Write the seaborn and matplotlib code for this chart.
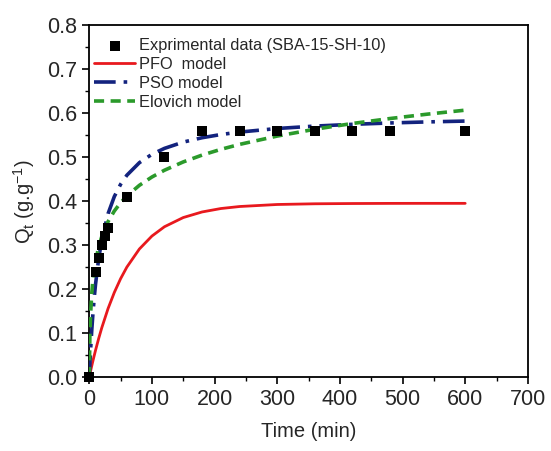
import matplotlib
matplotlib.use("Agg")
import matplotlib.pyplot as plt
import seaborn as sns
import pandas as pd
from matplotlib.ticker import MultipleLocator

exp_t = [0, 10, 15, 20, 25, 30, 60, 120, 180, 240, 300, 360, 420, 480, 600]
exp_q = [0.0, 0.24, 0.27, 0.30, 0.32, 0.34, 0.41, 0.50, 0.56, 0.56, 0.56, 0.56, 0.56, 0.56, 0.56]

# Model curves (values at these times)
model_t = [0, 1, 2, 4, 6, 8, 10, 15, 20, 30, 40, 50, 60, 80, 100, 120, 150, 180,
           210, 240, 300, 360, 420, 480, 540, 600]
pfo_q = [0.0, 0.0065, 0.0130, 0.0255, 0.0376, 0.0493, 0.0608, 0.0875, 0.1121, 0.1557,
         0.1924, 0.2236, 0.2500, 0.2912, 0.3206, 0.3418, 0.3627, 0.3754, 0.3832, 0.3878,
         0.3924, 0.3940, 0.3946, 0.3949, 0.3950, 0.3950]
pso_q = [0.0, 0.0308, 0.0587, 0.1069, 0.1472, 0.1814, 0.2109, 0.2690, 0.3120, 0.3715,
         0.4105, 0.4382, 0.4589, 0.4875, 0.5065, 0.5200, 0.5343, 0.5442, 0.5515, 0.5571,
         0.5652, 0.5707, 0.5747, 0.5778, 0.5802, 0.5821]
elo_q = [0.0, 0.0962, 0.1401, 0.1905, 0.2219, 0.2447, 0.2627, 0.2959, 0.3197, 0.3535,
         0.3776, 0.3964, 0.4118, 0.4360, 0.4549, 0.4703, 0.4892, 0.5047, 0.5178, 0.5291,
         0.5480, 0.5635, 0.5766, 0.5879, 0.5979, 0.6069]

labels = ["Exprimental data (SBA-15-SH-10)", "PFO  model", "PSO model", "Elovich model"]

sns.set_theme(style="white")
plt.rcParams["font.family"] = ["Liberation Sans", "DejaVu Sans"]
plt.rcParams["mathtext.fontset"] = "custom"
plt.rcParams["mathtext.rm"] = "Liberation Sans"

fig = plt.figure(figsize=(5.51, 4.51), dpi=100)
ax = fig.add_axes([0.162, 0.164, 0.796, 0.780])

exp_df = pd.DataFrame({"t": exp_t, "q": exp_q})
mod_df = pd.DataFrame({"t": model_t, "pfo": pfo_q, "pso": pso_q, "elo": elo_q})

sns.lineplot(data=mod_df, x="t", y="pfo", ax=ax, color="#e8191e", lw=2.0,
             label=labels[1], zorder=2)
sns.lineplot(data=mod_df, x="t", y="pso", ax=ax, color="#13237e", lw=2.6,
             linestyle=(0, (6, 2.2, 1, 2.2)), label=labels[2], zorder=3)
sns.lineplot(data=mod_df, x="t", y="elo", ax=ax, color="#2b9a2b", lw=2.6,
             linestyle=(0, (2.8, 1.8)), label=labels[3], zorder=3)
sns.scatterplot(data=exp_df, x="t", y="q", ax=ax, marker="s", s=42, color="black",
                edgecolor="black", linewidth=0, label=labels[0], zorder=4, clip_on=False)

ax.set_xlim(0, 700)
ax.set_ylim(0, 0.8)
ax.xaxis.set_major_locator(MultipleLocator(100))
ax.xaxis.set_minor_locator(MultipleLocator(50))
ax.yaxis.set_major_locator(MultipleLocator(0.1))
ax.yaxis.set_minor_locator(MultipleLocator(0.05))
ax.yaxis.set_major_formatter(matplotlib.ticker.FormatStrFormatter("%.1f"))

for s in ax.spines.values():
    s.set_color("black")
    s.set_linewidth(1.3)
ax.tick_params(which="both", direction="out", top=False, right=False, bottom=True,
               left=True, color="black")
ax.tick_params(which="major", length=5, width=1.2, labelsize=15.5, pad=3.5)
ax.tick_params(which="minor", length=3, width=1.0)

ax.set_xlabel("Time (min)", fontsize=14.5, labelpad=9)
ax.set_ylabel(r"Q$_\mathregular{t}$ (g.g$^\mathregular{-1}$)", fontsize=14.5, labelpad=7)

h, l = ax.get_legend_handles_labels()
order = [l.index(x) for x in labels]
ax.legend([h[i] for i in order], [l[i] for i in order], loc="upper left",
          bbox_to_anchor=(0.0, 0.978), frameon=False, fontsize=11.8,
          handlelength=2.5, handletextpad=0.25, labelspacing=0.25, borderaxespad=0.2,
          borderpad=0.1)

fig.savefig("out.png", dpi=100)
